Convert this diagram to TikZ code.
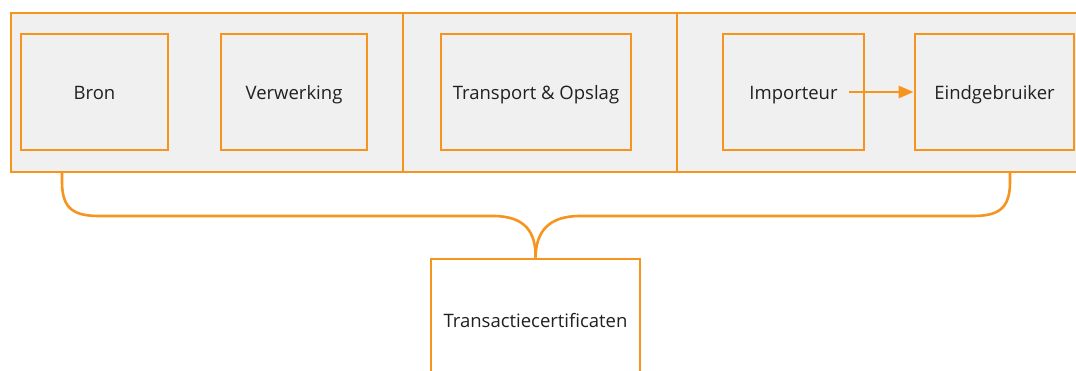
\documentclass[tikz,border=0pt]{standalone}
\usepackage{fontspec}
\setmainfont{Open Sans}
\usetikzlibrary{arrows.meta}
\definecolor{orng}{HTML}{F7941D}
\definecolor{panelfill}{HTML}{F0F0F0}
\definecolor{txt}{HTML}{231F20}
\tikzset{
  panel/.style={draw=orng, fill=panelfill, line width=2.8pt, minimum height=159pt, inner sep=0pt},
  stage/.style={draw=orng, fill=panelfill, line width=2.8pt, minimum height=116pt, inner sep=0pt, text height=14pt, text depth=0pt, text=txt, font=\fontsize{18.5}{22}\selectfont},
  cert/.style={draw=orng, fill=white, line width=2.8pt, minimum width=209pt, minimum height=122pt, inner sep=0pt, text height=14pt, text depth=0pt, text=txt, font=\fontsize{18.5}{22}\selectfont},
  flow/.style={draw=orng, line width=2.8pt, -{Triangle[length=15pt,width=12pt]}},
  brace/.style={draw=orng, line width=2.6pt}
}
\begin{document}
\begin{tikzpicture}[x=1pt,y=-1pt]
\useasboundingbox (0,0) rectangle (1076,370);
\clip (0,0) rectangle (1076,370);
\node[panel, minimum width=392pt] (p1) at (207,92.5) {};
\node[panel, minimum width=274pt] (p2) at (540,92.5) {};
\node[panel, minimum width=413pt] (p3) at (883.5,92.5) {};
\node[stage, minimum width=147pt] (bron) at (94.5,92) {Bron};
\node[stage, minimum width=146pt] (verw) at (294,92) {Verwerking};
\node[stage, minimum width=190pt] (trans) at (536,92) {Transport \& Opslag};
\node[stage, minimum width=141pt] (imp) at (793.5,92) {Importeur};
\node[stage, minimum width=159pt] (eind) at (994.5,92) {Eindgebruiker};
\node[cert] (cert) at (535.5,320) {Transactiecertificaten};
\coordinate (bl) at (62,172);
\coordinate (br) at (1010,172);
\draw[flow] (imp.center) ++(55,0) -- (eind.west);
\draw[brace] (bl) -- (62,182) .. controls (62,210) and (75,216) .. (100,216) -- (493,216) .. controls (525,216) and (536,232) .. (cert.north);
\draw[brace] (br) -- (1010,182) .. controls (1010,210) and (997,216) .. (972,216) -- (580,216) .. controls (548,216) and (536,232) .. (cert.north);
\end{tikzpicture}
\end{document}
